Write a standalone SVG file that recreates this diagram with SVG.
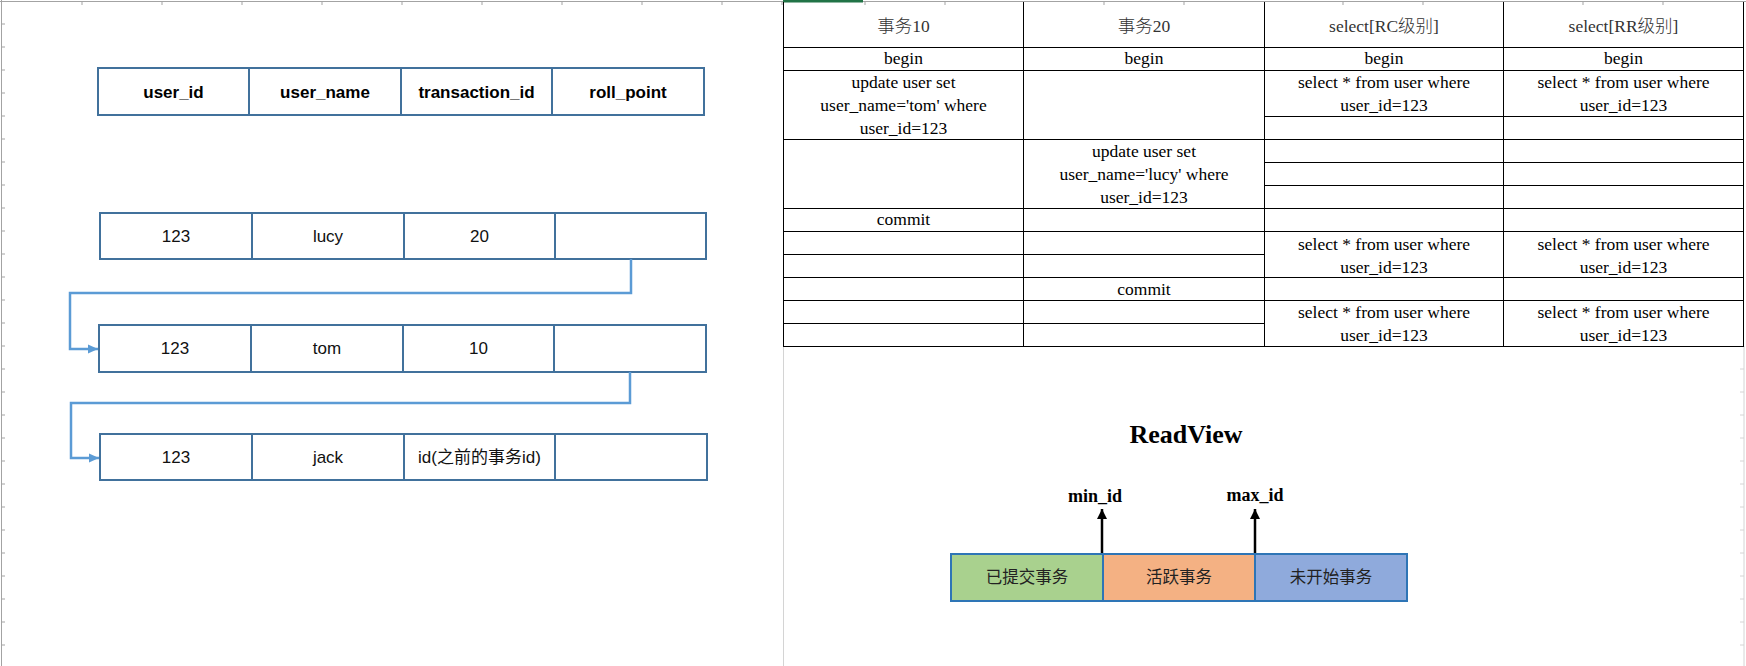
<svg xmlns="http://www.w3.org/2000/svg" width="1746" height="666" viewBox="0 0 1746 666">
<style>
.grid{stroke:#a3a3a3;stroke-width:1;fill:none}
.gridl{stroke:#d4d4d4;stroke-width:1;fill:none}
.cell{fill:#fff;stroke:#41719c;stroke-width:2}
.div{stroke:#41719c;stroke-width:2}
.hd{font-family:"Liberation Sans","Noto Sans CJK SC",sans-serif;font-size:17px;font-weight:bold;fill:#000;text-anchor:middle}
.rw{font-family:"Liberation Sans","Noto Sans CJK SC",sans-serif;font-size:17px;fill:#111;text-anchor:middle}
.conn{fill:none;stroke:#5b9bd5;stroke-width:2.5}
.tl{stroke:#000;stroke-width:1;fill:none;shape-rendering:crispEdges}
.tt{font-family:"Liberation Serif","Noto Sans CJK SC",serif;font-size:17.5px;fill:#000;text-anchor:middle}
.th{font-family:"Liberation Serif","Noto Sans CJK SC",serif;font-size:17.5px;font-weight:300;fill:#333;text-anchor:middle}
.rv{font-family:"Liberation Serif",serif;font-weight:bold;fill:#000;text-anchor:middle}
.box{stroke:#2e75b6;stroke-width:2}
.bt{font-family:"Noto Sans CJK SC",sans-serif;font-size:16.5px;fill:#222;text-anchor:middle}
.arr{stroke:#000;stroke-width:2.5;fill:none}
</style>
<defs>
<marker id="blueHead" markerUnits="userSpaceOnUse" markerWidth="11" markerHeight="10" refX="10" refY="5" orient="auto">
<path d="M0,0.5 L10,5 L0,9.5 z" fill="#5b9bd5"/>
</marker>
<marker id="blackHead" markerUnits="userSpaceOnUse" markerWidth="11" markerHeight="11" refX="10" refY="5" orient="auto">
<path d="M0,0 L10,5 L0,10 z" fill="#000"/>
</marker>
</defs>
<rect x="0" y="0" width="1746" height="666" fill="#fff"/>

<g id="sheet-grid">
<line class="grid" x1="0" y1="1.5" x2="1746" y2="1.5"/>
<line class="grid" x1="1.5" y1="0" x2="1.5" y2="666"/>
<path class="grid" d="M82,1 V5 M162,1 V5 M242,1 V5 M322,1 V5 M402,1 V5 M482,1 V5 M562,1 V5 M642,1 V5 M722,1 V5 M782,1 V5 M865,1 V5 M945,1 V5 M1104,1 V5 M1184,1 V5 M1343,1 V5 M1423,1 V5 M1583,1 V5 M1663,1 V5"/>
<path class="grid" d="M1,24 H5 M1,47 H5 M1,70 H5 M1,93 H5 M1,116 H5 M1,139 H5 M1,162 H5 M1,185 H5 M1,208 H5 M1,231 H5 M1,254 H5 M1,277 H5 M1,300 H5 M1,323 H5 M1,346 H5 M1,369 H5 M1,392 H5 M1,415 H5 M1,438 H5 M1,461 H5 M1,484 H5 M1,507 H5 M1,530 H5 M1,553 H5 M1,576 H5 M1,599 H5 M1,622 H5 M1,645 H5"/>
<rect x="783" y="0" width="80" height="2.5" fill="#217346"/>
<line class="gridl" x1="783.5" y1="346" x2="783.5" y2="666"/>
<line class="gridl" x1="1744" y1="346" x2="1744" y2="666"/>
<path class="gridl" d="M1740,369 H1744 M1740,392 H1744 M1740,415 H1744 M1740,438 H1744 M1740,461 H1744 M1740,484 H1744 M1740,507 H1744 M1740,530 H1744 M1740,553 H1744 M1740,576 H1744 M1740,599 H1744 M1740,622 H1744 M1740,645 H1744"/>
</g>

<g id="record-header">
<rect class="cell" x="98" y="68" width="606" height="47"/>
<line class="div" x1="249" y1="68" x2="249" y2="115"/>
<line class="div" x1="401" y1="68" x2="401" y2="115"/>
<line class="div" x1="552" y1="68" x2="552" y2="115"/>
<text class="hd" x="173.5" y="97.5">user_id</text>
<text class="hd" x="325" y="97.5">user_name</text>
<text class="hd" x="476.5" y="97.5">transaction_id</text>
<text class="hd" x="628" y="97.5">roll_point</text>
</g>

<g id="undo-row-lucy">
<rect class="cell" x="100" y="213" width="606" height="46"/>
<line class="div" x1="252" y1="213" x2="252" y2="259"/>
<line class="div" x1="404" y1="213" x2="404" y2="259"/>
<line class="div" x1="555" y1="213" x2="555" y2="259"/>
<text class="rw" x="176" y="242">123</text>
<text class="rw" x="328" y="242">lucy</text>
<text class="rw" x="479.5" y="242">20</text>
</g>

<g id="undo-row-tom">
<rect class="cell" x="99" y="325" width="607" height="47"/>
<line class="div" x1="251" y1="325" x2="251" y2="372"/>
<line class="div" x1="403" y1="325" x2="403" y2="372"/>
<line class="div" x1="554" y1="325" x2="554" y2="372"/>
<text class="rw" x="175" y="354">123</text>
<text class="rw" x="327" y="354">tom</text>
<text class="rw" x="478.5" y="354">10</text>
</g>

<g id="undo-row-jack">
<rect class="cell" x="100" y="434" width="607" height="46"/>
<line class="div" x1="252" y1="434" x2="252" y2="480"/>
<line class="div" x1="404" y1="434" x2="404" y2="480"/>
<line class="div" x1="555" y1="434" x2="555" y2="480"/>
<text class="rw" x="176" y="463">123</text>
<text class="rw" x="328" y="463">jack</text>
<text class="rw" x="479.5" y="463">id(之前的事务id)</text>
</g>

<g id="txn-table">
<path class="tl" d="M783.5,2 V346 M1023.5,2 V346 M1264.5,2 V346 M1503.5,2 V346 M1743.5,2 V346"/>
<path class="tl" d="M783,47.5 H1744 M783,70.5 H1744 M1264,116.5 H1744 M783,139.5 H1744 M1264,162.5 H1744 M1264,185.5 H1744 M783,208.5 H1744 M783,231.5 H1744 M783,254.5 H1264 M783,277.5 H1744 M783,300.5 H1744 M783,323.5 H1264 M783,346.5 H1744"/>
<text class="th" x="903.5" y="32">事务10</text>
<text class="th" x="1144" y="32">事务20</text>
<text class="th" x="1384" y="32">select[RC级别]</text>
<text class="th" x="1623.5" y="32">select[RR级别]</text>
<text class="tt" x="903.5" y="64">begin</text>
<text class="tt" x="1144" y="64">begin</text>
<text class="tt" x="1384" y="64">begin</text>
<text class="tt" x="1623.5" y="64">begin</text>
<text class="tt" x="903.5" y="88">update user set</text>
<text class="tt" x="903.5" y="111">user_name='tom' where</text>
<text class="tt" x="903.5" y="134">user_id=123</text>
<text class="tt" x="1384" y="88">select * from user where</text>
<text class="tt" x="1384" y="111">user_id=123</text>
<text class="tt" x="1623.5" y="88">select * from user where</text>
<text class="tt" x="1623.5" y="111">user_id=123</text>
<text class="tt" x="1144" y="157">update user set</text>
<text class="tt" x="1144" y="180">user_name='lucy' where</text>
<text class="tt" x="1144" y="203">user_id=123</text>
<text class="tt" x="903.5" y="225">commit</text>
<text class="tt" x="1384" y="249.5">select * from user where</text>
<text class="tt" x="1384" y="272.5">user_id=123</text>
<text class="tt" x="1623.5" y="249.5">select * from user where</text>
<text class="tt" x="1623.5" y="272.5">user_id=123</text>
<text class="tt" x="1144" y="294.5">commit</text>
<text class="tt" x="1384" y="318">select * from user where</text>
<text class="tt" x="1384" y="341">user_id=123</text>
<text class="tt" x="1623.5" y="318">select * from user where</text>
<text class="tt" x="1623.5" y="341">user_id=123</text>
</g>

<text class="rv" x="1186" y="443" font-size="26">ReadView</text>
<text class="rv" x="1095" y="502" font-size="18">min_id</text>
<text class="rv" x="1255" y="501" font-size="18">max_id</text>

<g id="box-committed">
<rect class="box" x="951" y="554" width="152" height="47" fill="#a9d18e"/>
<text class="bt" x="1027" y="583">已提交事务</text>
</g>
<g id="box-active">
<rect class="box" x="1103" y="554" width="152" height="47" fill="#f4b183"/>
<text class="bt" x="1179" y="583">活跃事务</text>
</g>
<g id="box-notstarted">
<rect class="box" x="1255" y="554" width="152" height="47" fill="#8faadc"/>
<text class="bt" x="1331" y="583">未开始事务</text>
</g>

<g id="connectors">
<path class="conn" d="M631,259 V293 H70 V349 H98" marker-end="url(#blueHead)"/>
<path class="conn" d="M630,372 V403 H71 V458 H99" marker-end="url(#blueHead)"/>
<line class="arr" x1="1102" y1="553" x2="1102" y2="509" marker-end="url(#blackHead)"/>
<line class="arr" x1="1255" y1="553" x2="1255" y2="509" marker-end="url(#blackHead)"/>
</g>
</svg>
